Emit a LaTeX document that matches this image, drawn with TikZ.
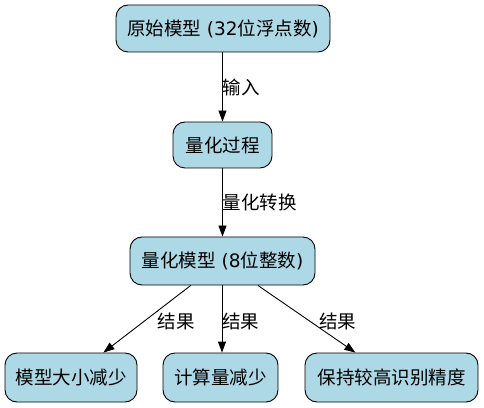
\documentclass[tikz,border=0pt]{standalone}
\usepackage{fontspec}
\setmainfont{Noto Sans CJK SC}
\newfontfamily\latinfont{DejaVu Sans}
\usetikzlibrary{arrows.meta}
\definecolor{boxfill}{HTML}{ADD8E6}
\tikzset{
  box/.style={draw=black, fill=boxfill, line width=0.9pt, rounded corners=12pt,
    inner sep=0pt, font=\fontsize{18.5}{21}\selectfont},
  conn/.style={draw=black, line width=0.9pt, -{Triangle[length=11pt,width=8pt]}},
  lbl/.style={font=\fontsize{18.5}{21}\selectfont, inner sep=0pt, anchor=west}
}
\begin{document}
\begin{tikzpicture}[x=1pt,y=1pt]
\useasboundingbox (0,0) rectangle (484,407);
\node[box, minimum width=214pt, minimum height=47pt] (n1) at (223,378.5) {原始模型{\latinfont{} (32}位浮点数{\latinfont)}};
\node[box, minimum width=99pt, minimum height=46pt] (n2) at (222.5,262) {量化过程};
\node[box, minimum width=185pt, minimum height=48pt] (n3) at (222.5,146) {量化模型{\latinfont{} (8}位整数{\latinfont)}};
\node[box, minimum width=132pt, minimum height=49pt] (n4) at (71,29.5) {模型大小减少};
\node[box, minimum width=115pt, minimum height=49pt] (n5) at (220.5,29.5) {计算量减少};
\node[box, minimum width=173pt, minimum height=49pt] (n6) at (391.5,29.5) {保持较高识别精度};
\draw[conn] (n1.south -| n2) -- node[lbl, pos=0.5] {输入} (n2);
\draw[conn] (n2) -- node[lbl, pos=0.5] {量化转换} (n3);
\draw[conn] (n3) -- node[lbl, pos=0.5, xshift=10pt, yshift=-2pt] {结果} (n4);
\draw[conn] (n3.south -| n5.north) ++(1.5,0) coordinate (m3) (m3) -- node[lbl, pos=0.5, yshift=-2pt] {结果} (m3 |- n5.north);
\draw[conn] (n3) -- node[lbl, pos=0.5, xshift=12pt, yshift=-2pt] {结果} (n6);
\end{tikzpicture}
\end{document}
